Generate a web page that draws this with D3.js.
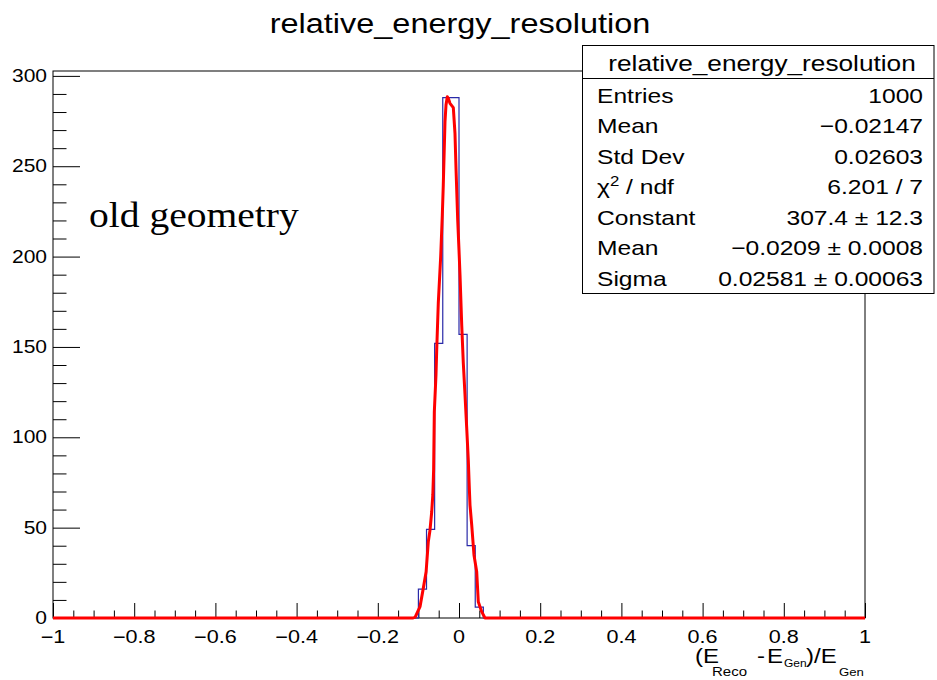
<!DOCTYPE html>
<html>
<head>
<meta charset="utf-8">
<script src="https://cdn.jsdelivr.net/npm/d3@7"></script>
<style>
  html, body { margin: 0; padding: 0; background: #ffffff; }
  svg { display: block; }
</style>
</head>
<body>
<div id="chart"></div>
<script>
// histogram (variable edges so the empty tails are single bins)
const histEdges = [-1, -0.1, -0.08, -0.06, -0.04, -0.02, 0, 0.02, 0.04, 0.06, 1];
const histCounts = [0, 16, 49, 152, 288, 288, 157, 40, 6, 0];

// gaussian fit curve as drawn
const fitX = [-1, -0.113, -0.108, -0.096, -0.088, -0.081, -0.0756, -0.0714, -0.0672, -0.0645,
  -0.0625, -0.0608, -0.0567, -0.0549, -0.051, -0.0451, -0.0411, -0.0387, -0.0345, -0.032,
  -0.0288, -0.0264, -0.0222, -0.014, -0.0099, -0.0074, -0.0032, 0, 0.0025, 0.0067,
  0.0106, 0.0148, 0.019, 0.0229, 0.0254, 0.0271, 0.0313, 0.0369, 0.0436, 0.0475,
  0.0559, 0.064, 1];
const fitY = [0, 0, 0.5, 6.3, 16.4, 25.6, 42.2, 48.7, 58.8, 68.1,
  82, 114, 134.5, 148.3, 174.3, 200, 223, 239.6, 274.7, 283.9,
  288.5, 287.6, 284.8, 282.4, 268.2, 249, 220.3, 203.6, 189.8, 162.1,
  141.1, 123.4, 105.1, 87.4, 72, 62.5, 51.5, 34.9, 25.6, 9,
  3.5, 0, 0];

const xTickValues = [-1, -0.8, -0.6, -0.4, -0.2, 0, 0.2, 0.4, 0.6, 0.8, 1];
const xTickLabels = ["\u22121", "\u22120.8", "\u22120.6", "\u22120.4", "\u22120.2", "0", "0.2", "0.4", "0.6", "0.8", "1"];
const yTickValues = [0, 50, 100, 150, 200, 250, 300];
const yTickLabels = ["0", "50", "100", "150", "200", "250", "300"];

const statLabels = ["Entries", "Mean", "Std Dev", "chi2", "Constant", "Mean", "Sigma"];
const statValues = ["1000", "\u22120.02147", "0.02603", "6.201 / 7", "307.4 \u00b1 12.3",
  "\u22120.0209 \u00b1 0.0008", "0.02581 \u00b1 0.00063"];

const W = 937, H = 680;
const frame = { left: 53, right: 865, top: 71, bottom: 618 };
const SX = 1.2; // picture is stretched sideways
const HIST_COLOR = "#2a2aa8";
const FIT_COLOR = "#ff0000";
const SANS = "'Liberation Sans', Arial, Helvetica, sans-serif";
const SERIF = "'Liberation Serif', 'Times New Roman', serif";

const svg = d3.select("#chart").append("svg")
  .attr("width", W).attr("height", H)
  .attr("viewBox", `0 0 ${W} ${H}`);

svg.append("rect").attr("width", W).attr("height", H).attr("fill", "#fff");

const x = d3.scaleLinear().domain([-1, 1]).range([frame.left, frame.right]);
const y = d3.scaleLinear().domain([0, 302.7]).range([frame.bottom, frame.top]);

// stretched text helper
function label(g, tx, ty, str, size, anchor, opts = {}) {
  return g.append("text")
    .attr("transform", `translate(${tx},${ty}) scale(${opts.sx ?? SX},1)`)
    .attr("text-anchor", anchor)
    .style("font-family", opts.family || SANS)
    .style("font-size", `${size}px`)
    .style("fill", "#000")
    .text(str);
}

// ticks
const yAxis = d3.axisRight(y)
  .tickValues(d3.range(0, 301, 10))
  .tickSize(0)
  .tickFormat("");
svg.append("g")
  .attr("transform", `translate(${frame.left},0)`)
  .call(yAxis)
  .call((a) => {
    a.select(".domain").remove();
    a.selectAll(".tick line")
      .attr("x2", (d) => (d % 50 === 0 ? 27 : 13.5))
      .attr("stroke", "#000")
      .attr("stroke-width", 1);
  });

const xAxis = d3.axisTop(x)
  .tickValues(d3.range(-20, 21, 1).map((i) => i * 0.05))
  .tickSize(0)
  .tickFormat("");
svg.append("g")
  .attr("transform", `translate(0,${frame.bottom})`)
  .call(xAxis)
  .call((a) => {
    a.select(".domain").remove();
    a.selectAll(".tick line")
      .attr("y2", (d, i) => (i % 4 === 0 ? -15 : -7.5))
      .attr("stroke", "#000")
      .attr("stroke-width", 1);
  });

// frame
svg.append("rect")
  .attr("x", frame.left).attr("y", frame.top)
  .attr("width", frame.right - frame.left)
  .attr("height", frame.bottom - frame.top)
  .attr("fill", "none")
  .attr("stroke", "#000")
  .attr("stroke-width", 1);

// tick labels
const labels = svg.append("g");
yTickValues.forEach((v, i) => label(labels, 47, y(v) + 6, yTickLabels[i], 17.5, "end"));
xTickValues.forEach((v, i) => label(labels, x(v), 643, xTickLabels[i], 18, "middle"));

// histogram outline
const histPts = histCounts.map((c, i) => [histEdges[i], c]);
histPts.push([histEdges[histEdges.length - 1], histCounts[histCounts.length - 1]]);
svg.append("path")
  .attr("d", d3.line().x((d) => x(d[0])).y((d) => y(d[1])).curve(d3.curveStepAfter)(histPts))
  .attr("fill", "none")
  .attr("stroke", HIST_COLOR)
  .attr("stroke-width", 1.2);

// fit
svg.append("path")
  .attr("d", d3.line().x((d, i) => x(fitX[i])).y((d) => y(d))(fitY))
  .attr("fill", "none")
  .attr("stroke", FIT_COLOR)
  .attr("stroke-width", 3)
  .attr("stroke-linejoin", "round");

// title
label(svg, 460, 33, "relative_energy_resolution", 27.5, "middle", { sx: 1.18 });

// annotation
label(svg, 89, 227, "old geometry", 35, "start", { family: SERIF, sx: 1.13 });

// x axis title, latex pieces laid out by hand
const xt = svg.append("g");
label(xt, 695, 663, "(E", 20, "start");
label(xt, 712, 676, "Reco", 12.5, "start");
label(xt, 757, 663, "-", 20, "start");
label(xt, 767, 663, "E", 20, "start");
label(xt, 784, 667, "Gen", 10, "start");
label(xt, 806, 663, ")/E", 20, "start");
label(xt, 839, 676, "Gen", 11, "start");

// stats box
const box = { x: 582.5, y: 45.5, w: 351.5, h: 248 };
const stats = svg.append("g");
stats.append("rect")
  .attr("x", box.x).attr("y", box.y)
  .attr("width", box.w).attr("height", box.h)
  .attr("fill", "#fff")
  .attr("stroke", "#000")
  .attr("stroke-width", 1);
stats.append("line")
  .attr("x1", box.x).attr("x2", box.x + box.w)
  .attr("y1", 78.5).attr("y2", 78.5)
  .attr("stroke", "#000");
label(stats, 762, 71, "relative_energy_resolution", 21.5, "middle", { sx: 1.22 });

statLabels.forEach((s, i) => {
  const by = 102.5 + i * 30.5;
  if (s === "chi2") {
    const t = label(stats, 597, by, "", 20.5, "start");
    t.append("tspan").text("\u03c7");
    t.append("tspan").attr("dy", -8).style("font-size", "14px").text("2");
    t.append("tspan").attr("dy", 8).text(" / ndf");
  } else {
    label(stats, 597, by, s, 20.5, "start");
  }
  label(stats, 923, by, statValues[i], 20.5, "end");
});
</script>
</body>
</html>
